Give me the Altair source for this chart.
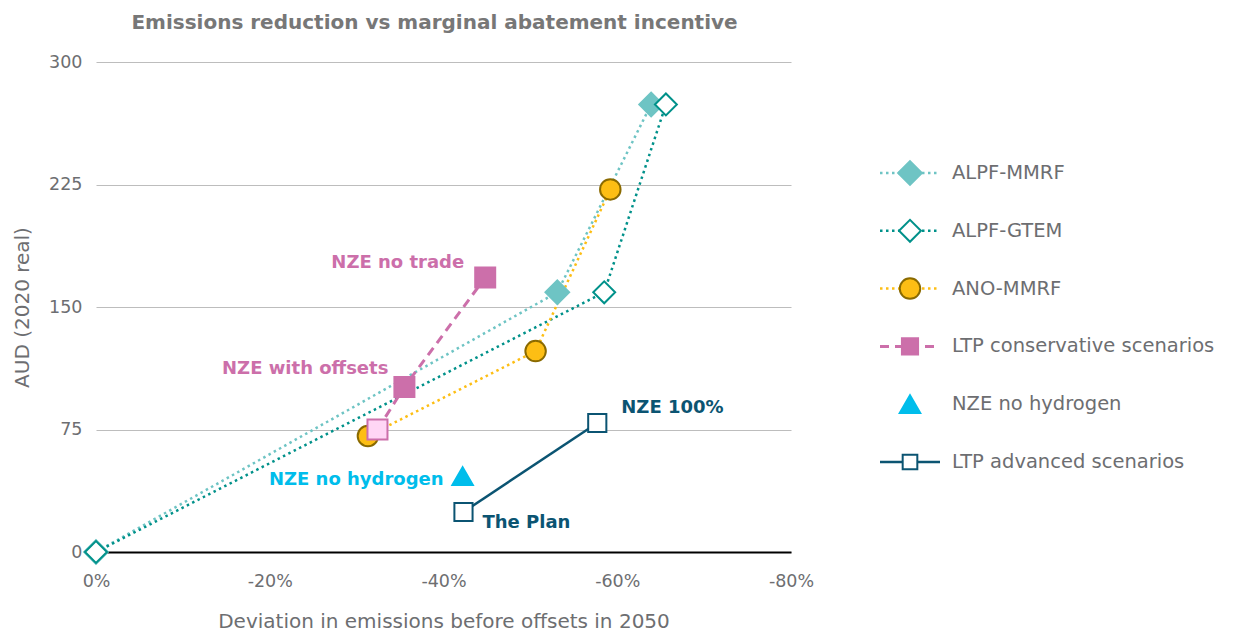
import altair as alt
import pandas as pd

FONT = "DejaVu Sans"
GRAY = "#6d6e71"

series_names = ["ALPF-MMRF", "ALPF-GTEM", "ANO-MMRF",
                "LTP conservative scenarios", "NZE no hydrogen", "LTP advanced scenarios"]

alpf_mmrf_x = [0.0, -53.1, -63.9]
alpf_mmrf_y = [0, 159, 274]
alpf_gtem_x = [0.0, -58.5, -65.6]
alpf_gtem_y = [0, 159, 274]
ano_mmrf_x = [-31.3, -50.6, -59.2]
ano_mmrf_y = [71, 123, 222]
ltp_cons_x = [-32.4, -35.5, -44.8]
ltp_cons_y = [75, 101, 168]
nze_noh2_x = [-42.2]
nze_noh2_y = [46.5]
ltp_adv_x = [-42.3, -57.7]
ltp_adv_y = [24.5, 79]

x_ticks = [0, -20, -40, -60, -80]
y_ticks = [0, 75, 150, 225, 300]

all_x = [alpf_mmrf_x, alpf_gtem_x, ano_mmrf_x, ltp_cons_x, nze_noh2_x, ltp_adv_x]
all_y = [alpf_mmrf_y, alpf_gtem_y, ano_mmrf_y, ltp_cons_y, nze_noh2_y, ltp_adv_y]

rows = []
for name, xs, ys in zip(series_names, all_x, all_y):
    for i, (xv, yv) in enumerate(zip(xs, ys)):
        rows.append({"series": name, "i": i, "x": xv, "y": yv})
df = pd.DataFrame(rows)

# annotation labels anchored at data points
ann_text = ["NZE no trade", "NZE with offsets", "NZE no hydrogen", "NZE 100%", "The Plan"]
ann_src = [(3, 2), (3, 1), (4, 0), (5, 1), (5, 0)]
ann_rows = []
for t, (si, pi) in zip(ann_text, ann_src):
    ann_rows.append({"label": t, "x": all_x[si][pi], "y": all_y[si][pi]})
ann_df = pd.DataFrame(ann_rows)

styles = {
    "ALPF-MMRF": dict(color="#6ec4c4", dash=[2.5, 3.5], width=2.5,
                      shape="diamond", fill="#6ec4c4", stroke="#6ec4c4", size=560),
    "ALPF-GTEM": dict(color="#00918a", dash=[2.5, 3.5], width=2.5,
                      shape="diamond", fill="#ffffff", stroke="#00918a", size=480),
    "ANO-MMRF": dict(color="#fdbe14", dash=[2.5, 3.5], width=2.5,
                     shape="circle", fill="#fdbe14", stroke="#8a6a00", size=420),
    "LTP conservative scenarios": dict(color="#cc6faa", dash=[9, 6], width=3,
                                       shape="square", fill="#cc6faa", stroke="#cc6faa", size=400),
    "NZE no hydrogen": dict(color=None, shape="triangle-up", fill="#00bdeb", stroke="#00bdeb", size=420),
    "LTP advanced scenarios": dict(color="#0b5472", dash=None, width=2.5,
                                   shape="square", fill="#ffffff", stroke="#0b5472", size=330),
}

X = alt.X("x:Q", scale=alt.Scale(domain=[0, -80], nice=False, zero=False),
          axis=alt.Axis(values=x_ticks, grid=False, ticks=False, domainColor="black", domainWidth=2,
                        labelExpr="datum.value == 0 ? '0%' : '-' + abs(datum.value) + '%'",
                        labelFlush=False, labelOverlap=False,
                        labelPadding=20, labelFontSize=17.5, labelColor=GRAY, labelFont=FONT,
                        title="Deviation in emissions before offsets in 2050",
                        titleFontSize=20, titleColor=GRAY, titleFont=FONT, titleFontWeight="normal",
                        titlePadding=22))
Y = alt.Y("y:Q", scale=alt.Scale(domain=[0, 300], nice=False),
          axis=alt.Axis(values=y_ticks, grid=True, gridColor="#bdbdbd", gridWidth=1, ticks=False,
                        domain=False, labelPadding=14, labelFontSize=17.5, labelColor=GRAY, labelFont=FONT,
                        labelFlush=False,
                        title="AUD (2020 real)", titleFontSize=20, titleColor=GRAY, titleFont=FONT,
                        titleFontWeight="normal", titlePadding=16))

base = alt.Chart(df).encode(x=X, y=Y)

line_layers = []
point_layers = []
for name in series_names:
    s = styles[name]
    sub = base.transform_filter(alt.datum.series == name)
    if s["color"] is not None:
        kw = dict(color=s["color"], strokeWidth=s["width"])
        if s["dash"] is not None:
            kw["strokeDash"] = s["dash"]
        line_layers.append(sub.mark_line(**kw))
    if name == "LTP conservative scenarios":
        pt = sub.mark_point(filled=True, opacity=1, shape=s["shape"], size=s["size"],
                            stroke=s["stroke"], strokeWidth=2).encode(
            fill=alt.condition("datum.i == 0", alt.value("#ffd6f5"), alt.value(s["fill"])))
    else:
        pt = sub.mark_point(filled=True, opacity=1, shape=s["shape"], size=s["size"],
                            fill=s["fill"], stroke=s["stroke"], strokeWidth=2)
    point_layers.append(pt)

ann_base = alt.Chart(ann_df).encode(x=X, y=Y, text="label:N")
ann_styles = {
    "NZE no trade": dict(color="#cc6faa", align="right", dx=-21, dy=-15),
    "NZE with offsets": dict(color="#cc6faa", align="right", dx=-16, dy=-18),
    "NZE no hydrogen": dict(color="#00bdeb", align="right", dx=-19, dy=4),
    "NZE 100%": dict(color="#0b5472", align="left", dx=24, dy=-15),
    "The Plan": dict(color="#0b5472", align="left", dx=19, dy=11),
}
ann_layers = []
for t in ann_text:
    a = ann_styles[t]
    ann_layers.append(ann_base.transform_filter(alt.datum.label == t).mark_text(
        font=FONT, fontSize=18, fontWeight="bold", color=a["color"], align=a["align"],
        baseline="middle", dx=a["dx"], dy=a["dy"]))

main = alt.layer(*line_layers, *point_layers, *ann_layers).properties(
    width=695, height=490,
    title=alt.Title("Emissions reduction vs marginal abatement incentive", font=FONT, fontSize=20,
                    fontWeight="bold", color="#777777", anchor="middle", frame="group", offset=20, dx=-9),
)

# legend panel
leg_df = pd.DataFrame({"series": series_names})
LY = alt.Y("series:N", sort=series_names, scale=alt.Scale(type="point", range=[111, 400], padding=0),
           axis=None)
leg_base = alt.Chart(leg_df).encode(y=LY)
leg_layers = []
for name in series_names:
    s = styles[name]
    sub = leg_base.transform_filter(alt.datum.series == name)
    if s["color"] is not None:
        kw = dict(color=s["color"], strokeWidth=s["width"])
        if s["dash"] is not None:
            kw["strokeDash"] = s["dash"]
        leg_layers.append(sub.mark_rule(**kw).encode(x=alt.value(0), x2=alt.value(60)))
for name in series_names:
    s = styles[name]
    sub = leg_base.transform_filter(alt.datum.series == name)
    size = s["size"] * (0.65 if s["shape"] == "square" else 1.0)
    leg_layers.append(sub.mark_point(filled=True, opacity=1, shape=s["shape"], size=size,
                                     fill=s["fill"], stroke=s["stroke"], strokeWidth=2).encode(
        x=alt.value(30)))
leg_layers.append(leg_base.mark_text(align="left", baseline="middle", font=FONT, fontSize=19.5,
                                     color=GRAY).encode(x=alt.value(72), text="series:N"))
legend = alt.layer(*leg_layers).properties(width=290, height=490)

chart = alt.hconcat(main, legend, spacing=64).resolve_scale(
    x="independent", y="independent").properties(
    padding={"left": 4, "top": 5, "right": 0, "bottom": 0}, background="white"
).configure_view(strokeWidth=0, stroke="transparent")

chart.save("out.html", embed_options={"renderer": "svg", "actions": False})
